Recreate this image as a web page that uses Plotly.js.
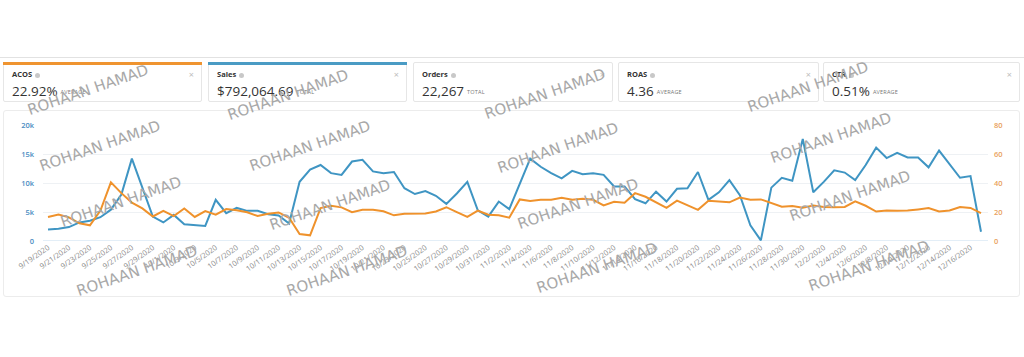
<!DOCTYPE html>
<html>
<head>
<meta charset="utf-8">
<script src="https://cdn.plot.ly/plotly-3.0.1.min.js"></script>
<style>
  html,body{margin:0;padding:0;background:#fff;width:1024px;height:357px;overflow:hidden;font-family:"Open Sans",sans-serif;}
  #topline{position:absolute;left:0;top:57px;width:1024px;height:1px;background:#e2e2e2;}
  .card{position:absolute;top:62px;height:40px;border:1px solid #e6e6e6;border-radius:2px;box-sizing:border-box;background:#fff;}
  .card .bar{position:absolute;left:-1px;right:-1px;top:-1px;height:3px;}
  .card .ttl{position:absolute;left:8px;top:6px;font-size:7.5px;font-weight:700;color:#333;}
  .card .ttl .i{display:inline-block;width:5px;height:5px;border-radius:50%;background:#c8c8c8;margin-left:3px;vertical-align:middle;}
  .card .x{position:absolute;right:7px;top:5px;font-size:9px;color:#bdbdbd;}
  .card .val{position:absolute;left:8px;top:19px;font-size:13.5px;color:#333;white-space:nowrap;}
  .card .val small{font-size:5.5px;color:#777;letter-spacing:0.2px;margin-left:3px;vertical-align:middle;}
  #box{position:absolute;left:3px;top:110px;width:1017px;height:187px;border:1px solid #ececec;border-radius:3px;box-sizing:border-box;}
  #chart{position:absolute;left:0;top:0;width:1024px;height:357px;}
  .wm{position:absolute;white-space:nowrap;font-family:"DejaVu Sans",sans-serif;font-size:15px;color:#a8a8a8;transform:translate(-50%,-50%) rotate(-19deg);pointer-events:none;}
</style>
</head>
<body>
<div id="topline"></div>
<div id="cards"></div>
<div id="box"></div>
<div id="chart"></div>
<div id="wms"></div>
<script>
// ---- data ----
const dates = [
 '2020-09-19','2020-09-20','2020-09-21','2020-09-22','2020-09-23','2020-09-24','2020-09-25','2020-09-26','2020-09-27','2020-09-28','2020-09-29','2020-09-30',
 '2020-10-01','2020-10-02','2020-10-03','2020-10-04','2020-10-05','2020-10-06','2020-10-07','2020-10-08','2020-10-09','2020-10-10',
 '2020-10-11','2020-10-12','2020-10-13','2020-10-14','2020-10-15','2020-10-16','2020-10-17','2020-10-18','2020-10-19','2020-10-20',
 '2020-10-21','2020-10-22','2020-10-23','2020-10-24','2020-10-25','2020-10-26','2020-10-27','2020-10-28','2020-10-29','2020-10-30','2020-10-31',
 '2020-11-01','2020-11-02','2020-11-03','2020-11-04','2020-11-05','2020-11-06','2020-11-07','2020-11-08','2020-11-09','2020-11-10',
 '2020-11-11','2020-11-12','2020-11-13','2020-11-14','2020-11-15','2020-11-16','2020-11-17','2020-11-18','2020-11-19','2020-11-20',
 '2020-11-21','2020-11-22','2020-11-23','2020-11-24','2020-11-25','2020-11-26','2020-11-27','2020-11-28','2020-11-29','2020-11-30',
 '2020-12-01','2020-12-02','2020-12-03','2020-12-04','2020-12-05','2020-12-06','2020-12-07','2020-12-08','2020-12-09','2020-12-10',
 '2020-12-11','2020-12-12','2020-12-13','2020-12-14','2020-12-15','2020-12-16','2020-12-17'
];
const sales = [
 2000,2100,2400,3200,3500,4100,5400,8000,14200,9300,
 4200,3200,4500,2900,2800,2600,7100,4800,5700,5200,
 5200,4600,4400,3000,10200,12300,13100,11700,11400,13700,
 14000,12000,11700,11900,9100,8100,8600,7800,6400,8200,
 10200,5300,4200,6800,5500,9700,14200,12800,11700,10800,
 12100,11500,11700,11400,9400,9400,7200,6500,8500,6800,
 9000,9100,11900,7100,8400,10500,7900,2700,100,9200,
 10900,10400,17600,8400,10200,12200,11800,10500,13100,16100,
 14300,15200,14400,14400,12700,15600,13200,10900,11200,1600
];
const acos = [
 16.6,18.2,16.3,12.2,10.8,21.0,40.4,33.0,26.5,22.5,
 16.9,20.8,17.2,22.4,16.6,20.6,18.2,22.0,21.2,19.8,
 17.2,18.8,19.7,16.0,4.8,3.9,22.7,24.3,23.2,19.9,
 21.5,21.5,20.5,17.7,18.8,19.0,18.9,20.4,23.3,19.9,
 16.6,21.0,18.1,17.7,16.1,28.7,27.6,28.5,28.5,29.9,
 28.5,29.2,28.4,24.5,27.0,26.4,33.0,30.5,26.5,22.8,
 27.8,24.5,21.5,27.8,27.3,26.7,30.0,28.4,28.7,26.0,
 23.6,24.2,23.0,24.5,23.5,23.3,23.5,27.3,24.3,20.3,
 21.0,20.8,21.0,21.8,22.7,20.3,21.0,23.5,22.8,19.2
];
const salesTickVals = [0,5000,10000,15000,20000];
const salesTickText = ['0','5k','10k','15k','20k'];
const acosTickVals = [0,20,40,60,80];
const acosTickText = ['0','20','40','60','80'];
const cardTitles = ['ACOS','Sales','Orders','ROAS','CTR'];
const cardValues = ['22.92%','$792,064.69','22,267','4.36','0.51%'];
const cardUnits = ['AVERAGE','TOTAL','TOTAL','AVERAGE','AVERAGE'];
const watermarkText = 'ROHAAN HAMAD';

// ---- cards ----
const cardLeft = [3,208,413,618,823];
const cardWidth = [199,199,200,201,197];
const cardBar = ['#ef9430','#4a9bc4',null,null,null];
const cardsEl = document.getElementById('cards');
cardTitles.forEach((t,i)=>{
  const d = document.createElement('div');
  d.className='card';
  d.style.left=cardLeft[i]+'px'; d.style.width=cardWidth[i]+'px';
  d.innerHTML = (cardBar[i]?'<div class="bar" style="background:'+cardBar[i]+'"></div>':'')+
    '<div class="ttl">'+t+'<span class="i"></span></div><div class="x">×</div>'+
    '<div class="val">'+cardValues[i]+'<small>'+cardUnits[i]+'</small></div>';
  cardsEl.appendChild(d);
});

// ---- watermarks ----
const wmPos = [[88,90],[288,95],[545,94],[808,87],[100,146],[310,146],[558,148],[831,138],
               [121,202],[330,205],[578,204],[850,196],[137,271],[347,271],[597,268],[869,266]];
const wmEl = document.getElementById('wms');
wmPos.forEach(p=>{
  const d=document.createElement('div'); d.className='wm';
  d.style.left=p[0]+'px'; d.style.top=p[1]+'px'; d.textContent=watermarkText; wmEl.appendChild(d);
});

// ---- chart ----
const xTickVals = dates.filter((d,i)=>i%2===0);
const xTickText = xTickVals.map(d=>{const [y,m,dd]=d.split('-'); return (+m)+'/'+(+dd)+'/'+y;});

const traces = [
  {x:dates, y:sales, type:'scatter', mode:'lines', name:'Sales', line:{color:'#3f95c3', width:2}, yaxis:'y'},
  {x:dates, y:acos, type:'scatter', mode:'lines', name:'ACOS', line:{color:'#ef922c', width:2}, yaxis:'y2'}
];
const layout = {
  width:1024, height:357,
  margin:{l:43, r:36, t:125, b:116},
  paper_bgcolor:'rgba(0,0,0,0)', plot_bgcolor:'rgba(0,0,0,0)',
  showlegend:false,
  font:{family:'Open Sans'},
  xaxis:{type:'date', range:['2020-09-18 12:33','2020-12-17 16:02'],
    tickvals:xTickVals, ticktext:xTickText, tickangle:-35,
    tickfont:{size:7.5, color:'#8a8a8a'}, showgrid:false, zeroline:false, showline:false, ticks:''},
  yaxis:{range:[0,20000], tickvals:salesTickVals, ticktext:salesTickText, gridcolor:'#eef1f4', gridwidth:1,
    zeroline:false, showline:false, ticks:'', ticklabelstandoff:8,
    tickfont:{size:7.5, color:'#4a8cc2', weight:600}},
  yaxis2:{range:[0,80], overlaying:'y', side:'right', tickvals:acosTickVals, ticktext:acosTickText,
    showgrid:false, zeroline:false, showline:false, ticks:'', ticklabelstandoff:5,
    tickfont:{size:7.5, color:'#e9a15c', weight:600}},
  shapes:[{type:'line', xref:'paper', x0:0, x1:1, yref:'y', y0:0, y1:0, line:{color:'#c6dcee', width:1}, layer:'below'}]
};
Plotly.newPlot('chart', traces, layout, {staticPlot:true, displayModeBar:false});
</script>
</body>
</html>
